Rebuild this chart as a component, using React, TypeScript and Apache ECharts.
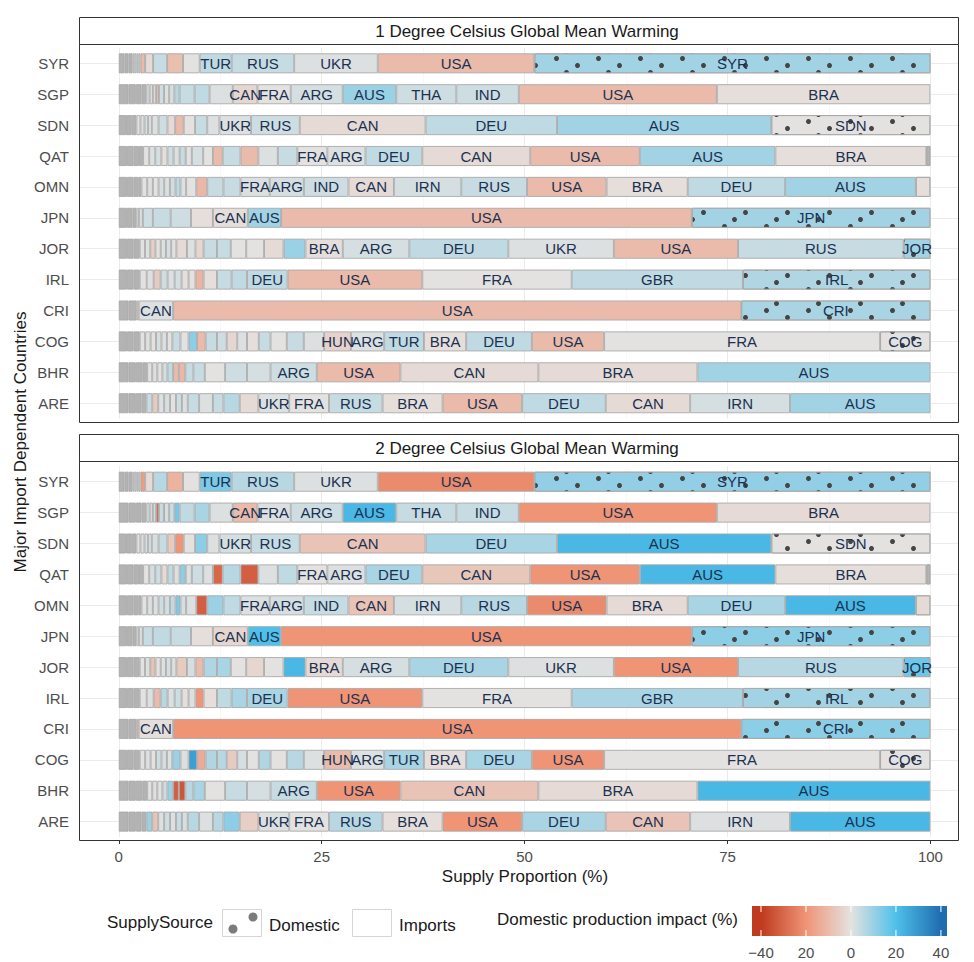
import React, { useEffect, useRef } from "react";
import * as echarts from "echarts";

const COUNTRIES = ["SYR", "SGP", "SDN", "QAT", "OMN", "JPN", "JOR", "IRL", "CRI", "COG", "BHR", "ARE"];
const PANEL_TITLES = ["1 Degree Celsius Global Mean Warming", "2 Degree Celsius Global Mean Warming"];
const X_TICKS = [0, 25, 50, 75, 100];
const X_MINOR_TICKS = [12.5, 37.5, 62.5, 87.5];
const IMPACT_TICKS = [-40, -20, 0, 20, 40];
const IMPACT_TICK_LABELS = ["\u221240", "20", "0", "20", "40"];
const IMPACT_STOPS = [-40, -20, 0, 20, 40];
const IMPACT_COLORS = ["#bf3a1e", "#f09476", "#e4e2e0", "#4fc0ea", "#1f6db0"];
const NA_COLOR = "#b3b3b3";

// [label, share of supply (%), impact 1°C (%), impact 2°C (%), domestic flag]
type Seg = [string, number, number | null, number | null, number?];

const SEG_SYR: Seg[] = [
  ["", 0.7, null, null], ["", 0.5, null, null], ["", 0.48, null, null],
  ["", 0.25, 2, 3], ["", 0.25, 0, 0], ["", 0.25, 4, 6], ["", 0.25, 1, 1],
  ["", 0.57, -10, -18], ["", 0.98, -2, -2], ["", 1.73, 4, 6], ["", 1.96, -9, -12], ["", 2.05, 0, 0],
  ["TUR", 3.94, 5, 14], ["RUS", 7.7, 4, 6], ["UKR", 10.3, 1, 1], ["USA", 19.3, -10, -22], ["SYR", 48.8, 9, 11, 1],
];
const SEG_SGP: Seg[] = [
  ["", 1.2, null, null], ["", 0.9, null, null], ["", 0.7, null, null], ["", 0.6, null, null],
  ["", 0.4, 1, 1], ["", 0.4, 0, 2], ["", 0.4, 2, 3], ["", 0.35, -10, -30],
  ["", 0.63, 3, 4], ["", 0.63, 1, 2], ["", 0.64, 2, 3], ["", 0.64, 6, 15],
  ["", 1.85, 4, 5], ["", 1.85, 5, 8], ["", 2.86, 1, 1],
  ["CAN", 3.04, -3, -10], ["FRA", 4.1, 0, 1], ["ARG", 6.4, 2, 3], ["AUS", 6.6, 10, 22], ["THA", 7.4, 3, 4],
  ["IND", 7.7, 3, 4], ["USA", 24.4, -10, -20], ["BRA", 26.3, -1, -2],
];
const SEG_SDN: Seg[] = [
  ["", 0.9, null, null], ["", 0.7, null, null], ["", 0.57, null, null],
  ["", 0.5, 0, 0], ["", 0.5, 1, 1], ["", 0.45, 2, 2], ["", 0.45, 0, 1],
  ["", 0.83, 1, 2], ["", 1.1, 3, 4], ["", 0.95, -2, -6], ["", 1.05, -10, -20], ["", 1.4, 0, 0], ["", 1.5, 4, 12], ["", 1.5, 1, 1],
  ["UKR", 3.9, 1, 2], ["RUS", 6.0, 3, 4], ["CAN", 15.5, -2, -8], ["DEU", 16.2, 5, 8], ["AUS", 26.4, 9, 22], ["SDN", 19.6, 0, 0, 1],
];
const SEG_QAT: Seg[] = [
  ["", 1.0, null, null], ["", 0.8, null, null], ["", 0.7, null, null], ["", 0.5, null, null],
  ["", 0.75, 0, 0], ["", 0.75, 1, 2], ["", 0.75, 2, 3], ["", 0.75, -1, -2], ["", 0.75, 3, 5], ["", 0.75, 1, 1], ["", 0.75, 4, 12], ["", 0.75, 0, 1],
  ["", 1.4, 2, 3], ["", 1.2, 0, 1], ["", 1.2, -10, -30], ["", 2.2, 4, 6], ["", 2.2, -10, -32], ["", 2.4, 1, 1], ["", 2.4, 4, 5],
  ["FRA", 3.7, 0, 0], ["ARG", 4.7, 1, 1], ["DEU", 7.0, 5, 8], ["CAN", 13.3, -2, -7], ["USA", 13.5, -10, -20],
  ["AUS", 16.7, 9, 22], ["BRA", 18.6, -1, -1], ["", 0.5, null, null, 1],
];
const SEG_OMN: Seg[] = [
  ["", 1.0, null, null], ["", 0.8, null, null], ["", 0.6, null, null], ["", 0.4, null, null],
  ["", 0.7, 0, 0], ["", 0.7, 1, 1], ["", 0.7, 0, 1], ["", 0.7, 2, 3], ["", 0.7, 1, 2], ["", 0.7, 3, 5], ["", 0.6, 5, 14], ["", 0.7, 1, 2],
  ["", 1.25, 0, 1], ["", 1.35, -11, -32], ["", 2.0, 4, 10], ["", 2.1, 4, 5],
  ["FRA", 3.6, 1, 1], ["ARG", 4.2, 2, 2], ["IND", 5.5, 3, 4], ["CAN", 5.6, -2, -8], ["IRN", 8.3, 2, 2], ["RUS", 8.1, 4, 6],
  ["USA", 9.8, -10, -22], ["BRA", 10.0, -1, -2], ["DEU", 12.0, 5, 8], ["AUS", 16.1, 9, 22], ["", 1.8, -1, -2, 1],
];
const SEG_JPN: Seg[] = [
  ["", 1.0, null, null], ["", 0.7, null, null], ["", 0.47, null, null],
  ["", 0.3, 0, 0], ["", 0.5, 2, 2], ["", 1.23, 3, 4], ["", 2.2, 4, 5], ["", 2.5, 3, 4], ["", 2.7, -1, -1],
  ["CAN", 4.3, -1, -3], ["AUS", 4.1, 9, 20], ["USA", 50.6, -10, -20], ["JPN", 29.4, 9, 12, 1],
];
const SEG_JOR: Seg[] = [
  ["", 1.0, null, null], ["", 0.8, null, null], ["", 0.78, null, null],
  ["", 0.65, 0, 0], ["", 0.65, 1, 1], ["", 0.64, -5, -8], ["", 0.65, 0, 0], ["", 0.64, 1, 1], ["", 0.65, 2, 2], ["", 0.64, 0, 1],
  ["", 1.3, -2, -6], ["", 1.05, 1, 2], ["", 1.0, -3, -10], ["", 1.65, 4, 7], ["", 1.7, 4, 8], ["", 1.9, 0, 0],
  ["", 2.2, 0, -3], ["", 2.4, -2, 0], ["", 2.7, 10, 22],
  ["BRA", 4.6, -1, -2], ["ARG", 8.2, 2, 2], ["DEU", 12.2, 5, 8], ["UKR", 13.0, 1, 1], ["USA", 15.3, -10, -20],
  ["RUS", 20.4, 4, 6], ["JOR", 3.3, 9, 16, 1],
];
const SEG_IRL: Seg[] = [
  ["", 1.0, null, null], ["", 0.8, null, null], ["", 0.78, null, null],
  ["", 0.86, 0, 0], ["", 0.86, 1, 1], ["", 0.86, -6, -10], ["", 0.86, 3, 6], ["", 0.86, 1, 1], ["", 0.86, 2, 3], ["", 0.86, -1, -1], ["", 0.85, 0, 1],
  ["", 1.0, -12, -20], ["", 1.65, -1, -1], ["", 1.8, 4, 5], ["", 1.9, 5, 8],
  ["DEU", 5.0, 5, 8], ["USA", 16.6, -10, -20], ["FRA", 18.4, 0, 0], ["GBR", 21.1, 5, 8], ["IRL", 23.1, 7, 9, 1],
];
const SEG_CRI: Seg[] = [
  ["", 1.2, null, null], ["", 1.0, null, null], ["", 0.25, -5, -10],
  ["CAN", 4.25, 1, -1], ["USA", 70.0, -10, -20], ["CRI", 23.3, 8, 12, 1],
];
const SEG_COG: Seg[] = [
  ["", 1.0, null, null], ["", 0.8, null, null], ["", 0.78, null, null],
  ["", 0.67, 0, 0], ["", 0.67, 1, 1], ["", 0.67, 0, 0], ["", 0.67, 2, 3], ["", 0.67, 1, 2], ["", 0.67, 0, 1],
  ["", 1.0, 4, 10], ["", 1.0, 0, 1], ["", 1.05, 12, 28], ["", 1.05, -10, -14], ["", 1.4, 4, 7], ["", 1.2, 3, 6],
  ["", 1.3, -3, -6], ["", 1.2, 1, 2], ["", 1.45, -1, 0], ["", 1.45, 4, 7], ["", 2.0, 0, 0], ["", 2.1, 4, 6], ["", 2.5, 1, 1],
  ["HUN", 3.3, -4, -10], ["ARG", 4.1, 1, 1], ["TUR", 4.9, 5, 8], ["BRA", 5.2, -1, -1], ["DEU", 8.1, 5, 8],
  ["USA", 8.9, -10, -20], ["FRA", 34.0, 0, 0], ["COG", 6.2, 0, 0, 1],
];
const SEG_BHR: Seg[] = [
  ["", 1.2, null, null], ["", 0.9, null, null], ["", 0.8, null, null], ["", 0.6, null, null],
  ["", 0.625, 0, 0], ["", 0.625, 1, 1], ["", 0.625, 0, 0], ["", 0.625, 2, 3], ["", 0.7, 5, 10],
  ["", 0.7, -10, -32], ["", 0.8, -11, -34], ["", 1.0, 4, 6], ["", 1.4, 4, 8], ["", 2.5, 0, 0], ["", 2.7, 3, 4], ["", 2.9, 2, 2],
  ["ARG", 5.7, 3, 4], ["USA", 10.3, -10, -20], ["CAN", 17.0, -2, -8], ["BRA", 19.6, -2, -2], ["AUS", 28.7, 9, 22],
];
const SEG_ARE: Seg[] = [
  ["", 1.2, null, null], ["", 0.9, null, null], ["", 0.7, null, null], ["", 0.6, null, null],
  ["", 0.73, 4, 10], ["", 0.73, -6, -8], ["", 0.73, 1, 1], ["", 0.73, 2, 3], ["", 0.73, 0, 1], ["", 0.73, 3, 4], ["", 0.72, 1, 2],
  ["", 1.4, 4, 6], ["", 1.7, 1, 1], ["", 1.3, 4, 6], ["", 2.0, 6, 12], ["", 2.3, -2, -5],
  ["UKR", 3.8, 1, 1], ["FRA", 4.9, 0, 0], ["RUS", 6.6, 4, 6], ["BRA", 7.4, -1, -1], ["USA", 9.8, -10, -20],
  ["DEU", 10.3, 5, 8], ["CAN", 10.4, -2, -8], ["IRN", 12.3, 2, 1], ["AUS", 17.3, 9, 22],
];

const ROWS: Seg[][] = [SEG_SYR, SEG_SGP, SEG_SDN, SEG_QAT, SEG_OMN, SEG_JPN, SEG_JOR, SEG_IRL, SEG_CRI, SEG_COG, SEG_BHR, SEG_ARE];

const FONT = "'Liberation Sans', Arial, Helvetica, sans-serif";

function hexRgb(c: string): number[] {
  const n = parseInt(c.slice(1), 16);
  return [(n >> 16) & 255, (n >> 8) & 255, n & 255];
}
function impactColor(v: number | null | undefined): string {
  if (v === null || v === undefined) return NA_COLOR;
  const lo = IMPACT_STOPS[0];
  const hi = IMPACT_STOPS[IMPACT_STOPS.length - 1];
  const x = Math.max(lo, Math.min(hi, v));
  let i = 0;
  while (i < IMPACT_STOPS.length - 2 && x > IMPACT_STOPS[i + 1]) i++;
  const t = (x - IMPACT_STOPS[i]) / (IMPACT_STOPS[i + 1] - IMPACT_STOPS[i]);
  const a = hexRgb(IMPACT_COLORS[i]);
  const b = hexRgb(IMPACT_COLORS[i + 1]);
  const m = a.map((av, k) => Math.round(av + (b[k] - av) * t));
  return `rgb(${m[0]},${m[1]},${m[2]})`;
}

const DOT_DECAL = {
  symbol: "circle",
  symbolSize: 1,
  symbolKeepAspect: true,
  color: "#454545",
  backgroundColor: null,
  dashArrayX: [[0, 8, 5, 29], [0, 29, 5, 8], [0, 18, 5, 19]],
  dashArrayY: [5, 2],
};

// layout
const PANEL_LEFT = 79;
const PANEL_WIDTH = 879;
const STRIP_TOPS = [17, 434];
const STRIP_H = 27;
const PANEL_BOTTOMS = [422, 840];
const GRID_TOPS = [47.85, 466.25];
const GRID_H = 370.8;

const CB_X = 752;
const CB_Y = 906;
const CB_W = 195;
const CB_H = 30;
const CB_MIN = -44;
const CB_MAX = 42.7;

function buildOption() {
  const maxLen = Math.max(...ROWS.map((r) => r.length));
  const series: any[] = [];
  for (let p = 0; p < 2; p++) {
    for (let k = 0; k < maxLen; k++) {
      const s: any = {
        type: "bar",
        stack: "panel" + p,
        xAxisIndex: p,
        yAxisIndex: p,
        barWidth: 20,
        silent: true,
        z: 2,
        label: {
          position: "inside",
          color: "#1b3150",
          fontSize: 15,
          fontFamily: FONT,
        },
        data: ROWS.map((row) => {
          const seg = row[k];
          if (!seg) return "-";
          const itemStyle: any = {
            color: impactColor(seg[2 + p] as number | null),
            borderColor: "#a9a9a9",
            borderWidth: 0.9,
          };
          if (seg[4]) itemStyle.decal = DOT_DECAL;
          return {
            value: seg[1],
            itemStyle,
            label: { show: seg[0] !== "", formatter: seg[0] },
          };
        }),
      };
      if (k === 0) {
        s.markLine = {
          silent: true,
          z: 1,
          symbol: ["none", "none"],
          label: { show: false },
          lineStyle: { color: "#ebebeb", width: 1, type: "solid" },
          emphasis: { disabled: true },
          data: [
            ...X_TICKS.map((v) => ({ xAxis: v })),
            ...X_MINOR_TICKS.map((v) => ({ xAxis: v, lineStyle: { color: "#f4f4f4", width: 0.6, type: "solid" } })),
            ...COUNTRIES.map((c) => ({ yAxis: c })),
          ],
        };
      }
      series.push(s);
    }
  }

  const grids = [0, 1].map((p) => ({
    left: PANEL_LEFT,
    top: GRID_TOPS[p],
    width: PANEL_WIDTH,
    height: GRID_H,
    containLabel: false,
  }));

  const xAxes = [0, 1].map((p) => ({
    type: "value",
    gridIndex: p,
    min: -4.9,
    max: 103.4,
    offset: p === 1 ? PANEL_BOTTOMS[1] - (GRID_TOPS[1] + GRID_H) : 0,
    splitLine: { show: false },
    axisLine: { show: false },
    axisTick: p === 1
      ? { show: true, customValues: X_TICKS, length: 4, lineStyle: { color: "#333333", width: 1 } }
      : { show: false },
    axisLabel: p === 1
      ? { show: true, customValues: X_TICKS, color: "#4d4d4d", fontSize: 15, fontFamily: FONT, margin: 9 }
      : { show: false },
  }));

  const yAxes = [0, 1].map((p) => ({
    type: "category",
    gridIndex: p,
    data: COUNTRIES,
    inverse: true,
    axisLine: { show: false },
    axisTick: { show: true, alignWithLabel: true, length: 5, lineStyle: { color: "#333333", width: 1 } },
    axisLabel: { color: "#4d4d4d", fontSize: 15, fontFamily: FONT, margin: 10 },
    splitLine: { show: false },
  }));

  const graphics: any[] = [];
  for (let p = 0; p < 2; p++) {
    const st = STRIP_TOPS[p];
    graphics.push({
      type: "rect",
      z: 0,
      shape: { x: PANEL_LEFT + 0.5, y: st + 0.5, width: PANEL_WIDTH, height: STRIP_H },
      style: { fill: "#ffffff", stroke: "#333333", lineWidth: 1 },
    });
    graphics.push({
      type: "text",
      z: 1,
      x: 527,
      y: st + STRIP_H / 2 + 1,
      style: {
        text: PANEL_TITLES[p],
        fill: "#1a1a1a",
        font: `17px ${FONT}`,
        align: "center",
        verticalAlign: "middle",
        textAlign: "center",
        textVerticalAlign: "middle",
      },
    });
    graphics.push({
      type: "rect",
      z: 20,
      shape: {
        x: PANEL_LEFT + 0.5,
        y: st + STRIP_H + 0.5,
        width: PANEL_WIDTH,
        height: PANEL_BOTTOMS[p] - st - STRIP_H,
      },
      style: { fill: "none", stroke: "#333333", lineWidth: 1 },
    });
  }
  // axis titles
  graphics.push({
    type: "text",
    x: 525,
    y: 876,
    style: {
      text: "Supply Proportion (%)",
      fill: "#1a1a1a",
      font: `17px ${FONT}`,
      align: "center",
      verticalAlign: "middle",
      textAlign: "center",
      textVerticalAlign: "middle",
    },
  });
  graphics.push({
    type: "text",
    x: 20,
    y: 442,
    rotation: Math.PI / 2,
    style: {
      text: "Major Import Dependent Countries",
      fill: "#1a1a1a",
      font: `17px ${FONT}`,
      align: "center",
      verticalAlign: "middle",
      textAlign: "center",
      textVerticalAlign: "middle",
    },
  });
  // legend: supply source
  const legendText = (text: string, x: number, y: number) => ({
    type: "text",
    x,
    y,
    style: {
      text,
      fill: "#1a1a1a",
      font: `17px ${FONT}`,
      align: "left",
      verticalAlign: "middle",
      textAlign: "left",
      textVerticalAlign: "middle",
    },
  });
  graphics.push(legendText("SupplySource", 107, 922));
  graphics.push({
    type: "rect",
    shape: { x: 222.5, y: 909.5, width: 39, height: 27 },
    style: { fill: "#ffffff", stroke: "#d4d4d4", lineWidth: 1 },
  });
  graphics.push({ type: "circle", shape: { cx: 233, cy: 929, r: 4.5 }, style: { fill: "#7b7b7b" } });
  graphics.push({ type: "circle", shape: { cx: 253, cy: 917, r: 4.5 }, style: { fill: "#7b7b7b" } });
  graphics.push(legendText("Domestic", 269, 925));
  graphics.push({
    type: "rect",
    shape: { x: 352.5, y: 909.5, width: 39, height: 27 },
    style: { fill: "#ffffff", stroke: "#d4d4d4", lineWidth: 1 },
  });
  graphics.push(legendText("Imports", 399, 925));
  graphics.push(legendText("Domestic production impact (%)", 497, 919));

  // colour bar
  const cbStops = [CB_MIN, ...IMPACT_STOPS, CB_MAX].map((v) => ({
    offset: (v - CB_MIN) / (CB_MAX - CB_MIN),
    color: impactColor(v),
  }));
  graphics.push({
    type: "rect",
    shape: { x: CB_X, y: CB_Y, width: CB_W, height: CB_H },
    style: {
      fill: { type: "linear", x: 0, y: 0, x2: 1, y2: 0, colorStops: cbStops },
    },
  });
  IMPACT_TICKS.forEach((v, i) => {
    const px = CB_X + ((v - CB_MIN) / (CB_MAX - CB_MIN)) * CB_W;
    graphics.push({
      type: "line",
      shape: { x1: px, y1: CB_Y, x2: px, y2: CB_Y + 6 },
      style: { stroke: "#ffffff", lineWidth: 1 },
    });
    graphics.push({
      type: "line",
      shape: { x1: px, y1: CB_Y + CB_H - 6, x2: px, y2: CB_Y + CB_H },
      style: { stroke: "#ffffff", lineWidth: 1 },
    });
    graphics.push({
      type: "text",
      x: px,
      y: 952,
      style: {
        text: IMPACT_TICK_LABELS[i],
        fill: "#4d4d4d",
        font: `15px ${FONT}`,
        align: "center",
        verticalAlign: "middle",
        textAlign: "center",
        textVerticalAlign: "middle",
      },
    });
  });

  return {
    animation: false,
    backgroundColor: "#ffffff",
    textStyle: { fontFamily: FONT },
    grid: grids,
    xAxis: xAxes,
    yAxis: yAxes,
    series,
    graphic: { elements: graphics },
  };
}

export default function App() {
  const ref = useRef<HTMLDivElement>(null);
  useEffect(() => {
    if (!ref.current) return;
    const chart = echarts.init(ref.current, undefined, { renderer: "svg" });
    chart.setOption(buildOption() as any);
    return () => chart.dispose();
  }, []);
  return (
    <div
      ref={ref}
      style={{ position: "fixed", left: 0, top: 0, width: 974, height: 962, background: "#fff" }}
    />
  );
}
